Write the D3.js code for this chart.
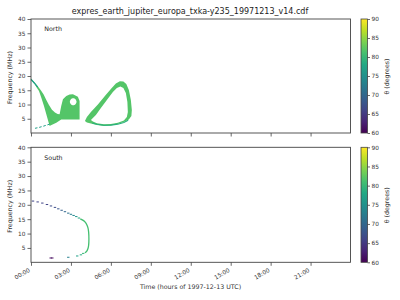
<!DOCTYPE html>
<html><head><meta charset="utf-8">
<script src="https://cdn.jsdelivr.net/npm/d3@7"></script>
<style>body{margin:0;background:#fff}svg{display:block;font-family:"DejaVu Sans",sans-serif}</style>
</head><body><svg id="c" width="400" height="300"></svg>
<script>
// ---------- data (time in hours, frequency in MHz, theta in degrees) ----------
const titleText = "expres_earth_jupiter_europa_txka-y235_19971213_v14.cdf";
const timeTicks = [0, 3, 6, 9, 12, 15, 18, 21];
const freqTicks = [5, 10, 15, 20, 25, 30, 35, 40];
const thetaTicks = [60, 65, 70, 75, 80, 85, 90];

// North: left band + blob (outline) with a hole
const northBlob = [[0,19.1],[0.25,17.8],[0.525,16.3],[0.75,14.9],[0.95,13.5],[1.15,11.6],[1.35,9.8],[1.575,8.2],[1.8,7.2],[2.0,6.7],[2.15,6.6],[2.27,9.5],[2.4,11.8],[2.65,13.0],[2.9,13.5],[3.15,13.6],[3.52,12.7],[3.65,11.2],[3.65,4.7],[2.27,4.7],[1.9,3.6],[1.5,2.7],[1.4,2.5],[1.33,3.6],[1.15,6.6],[0.975,9.5],[0.775,12.4],[0.6,14.7],[0.45,15.8],[0.25,17.3],[0,18.6]];
const northHole = [[3.42,11.0],[3.34,11.87],[3.17,12.23],[3.0,11.87],[2.92,11.0],[3.0,10.13],[3.17,9.77],[3.34,10.13]];
const northBlobTheta = 82;
const northTip = [[0,18.85],[0.25,17.55],[0.5,16.1]];
const northTipTheta = 77;
const northTrail = [[0.3,1.65],[0.6,1.95],[0.9,2.35],[1.2,2.8],[1.45,3.2]];
const northTrailTheta = 77;
// North: loop
const northLoopOuter = [[4.05,4.2],[4.2,5.6],[4.5,7.4],[5.025,10.0],[5.55,13.0],[6.0,15.4],[6.375,17.4],[6.675,18.2],[6.94,18.1],[7.16,17.2],[7.35,15.1],[7.5,11.6],[7.575,8.1],[7.54,6.0],[7.35,4.7],[6.975,3.9],[6.525,3.2],[6.0,2.6],[5.475,2.5],[4.95,2.8],[4.5,3.3],[4.2,3.7]];
const northLoopInner = [[4.5,4.6],[4.875,6.3],[5.25,8.8],[5.7,11.6],[6.15,14.4],[6.45,15.8],[6.71,16.3],[6.94,15.8],[7.125,14.0],[7.24,10.9],[7.275,7.4],[7.2,5.6],[6.975,4.4],[6.525,3.6],[6.0,3.2],[5.475,3.05],[4.95,3.4],[4.65,4.0]];
const northLoopTheta = 82;
const northLoopBottom = [[7.3,4.5],[6.975,3.7],[6.525,3.1],[6.0,2.75],[5.475,2.7],[4.95,3.05],[4.6,3.5]];
const northLoopBottomTheta = 79;

// South: dashes [t, f, theta]
const southDashes = [[0.15,21.3,66],[0.5,21.0,66],[0.85,20.6,66],[1.2,20.1,66],[1.5,19.6,67],[1.8,19.1,67],[2.05,18.6,68],[2.3,18.1,69],[2.55,17.6,70],[2.8,17.1,71],[3.0,16.7,73],[3.2,16.3,74],[3.4,15.9,76],[3.6,15.4,78],
  [2.8,1.75,73],[3.47,2.2,77],[3.75,2.6,79],[3.92,3.1,80],[1.48,1.5,61],[1.6,1.5,61]];
// South: solid arc
const southArc = [[3.7,15.1],[3.95,14.5],[4.1,13.8],[4.2,13.0],[4.28,12.0],[4.33,10.5],[4.35,8.0],[4.33,6.0],[4.28,4.8],[4.18,3.8],[4.05,3.3]];
const southArcTheta = 81;

// ---------- layout ----------
const svg = d3.select("#c");
const x = d3.scaleLinear().domain([0,24]).range([31,350.5]);
const color = t => d3.interpolateViridis((t-60)/30);
const panels = [
  {name:"North", top:19, bottom:133},
  {name:"South", top:147.3, bottom:262.3}
];
const fs = 5.8;

svg.append("text").attr("x",190).attr("y",14).attr("text-anchor","middle")
  .attr("font-size",8).attr("fill","#222").text(titleText);

panels.forEach((p,i)=>{
  const y = d3.scaleLinear().domain([0,40]).range([p.bottom,p.top]);
  const g = svg.append("g");
  const line = d3.line().x(d=>x(d[0])).y(d=>y(d[1]));
  if(i===0){
    g.append("path").attr("d", line(northBlob)+"Z"+d3.line().x(d=>x(d[0])).y(d=>y(d[1])).curve(d3.curveCardinalClosed)(northHole))
      .attr("fill-rule","evenodd").attr("fill",color(northBlobTheta));
    g.append("path").attr("d", line(northTip)).attr("fill","none").attr("stroke",color(northTipTheta)).attr("stroke-width",1.2);
    g.append("path").attr("d", line(northTrail)).attr("fill","none").attr("stroke",color(northTrailTheta))
      .attr("stroke-width",1).attr("stroke-dasharray","2.5,1.8");
    g.append("path").attr("d", line(northLoopOuter)+"Z"+line(northLoopInner)+"Z")
      .attr("fill-rule","evenodd").attr("fill",color(northLoopTheta));
    g.append("path").attr("d", line(northLoopBottom)).attr("fill","none").attr("stroke",color(northLoopBottomTheta)).attr("stroke-width",1.1);
  } else {
    g.selectAll("rect.d").data(southDashes).join("rect")
      .attr("x",d=>x(d[0])-1.2).attr("y",d=>y(d[1])-0.5).attr("width",2.4).attr("height",1)
      .attr("fill",d=>color(d[2]));
    g.append("path").attr("d", line.curve(d3.curveCatmullRom)(southArc)).attr("fill","none")
      .attr("stroke",color(southArcTheta)).attr("stroke-width",1.3);
  }
  svg.append("rect").attr("x",x(0)).attr("y",p.top).attr("width",x(24)-x(0)).attr("height",p.bottom-p.top)
    .attr("fill","none").attr("stroke","#444").attr("stroke-width",0.9);
  const ya = svg.append("g").attr("transform",`translate(${x(0)},0)`)
    .call(d3.axisLeft(y).tickValues(freqTicks).tickSize(3.5).tickPadding(2));
  ya.select(".domain").remove();
  ya.selectAll("line").attr("stroke","#444").attr("stroke-width",0.8);
  ya.selectAll("text").attr("font-size",fs).attr("fill","#333").attr("font-family","DejaVu Sans");
  const xa = svg.append("g").attr("transform",`translate(0,${p.bottom})`)
    .call(d3.axisBottom(x).tickValues(timeTicks).tickSize(3.5)
      .tickFormat(i===1 ? (d=>d3.format("02d")(d)+":00") : ""));
  xa.select(".domain").remove();
  xa.selectAll("line").attr("stroke","#444").attr("stroke-width",0.8);
  if(i===1){
    xa.selectAll("text").attr("font-size",fs).attr("fill","#333").attr("font-family","DejaVu Sans")
      .attr("text-anchor","end").attr("dy",null).attr("y",0)
      .attr("transform","translate(-1,9) rotate(-30)");
  }
  svg.append("text").attr("x",44.3).attr("y",p.top+12.3).attr("font-size",6.3).attr("fill","#222").text(p.name);
  svg.append("text").attr("transform",`translate(12.3,${(p.top+p.bottom)/2+1.5}) rotate(-90)`)
    .attr("text-anchor","middle").attr("font-size",6.3).attr("fill","#333").text("Frequency (MHz)");
  const cb = d3.scaleLinear().domain([60,90]).range([p.bottom,p.top]);
  const gid = "grad"+i;
  const grad = svg.append("defs").append("linearGradient").attr("id",gid)
    .attr("x1",0).attr("y1",1).attr("x2",0).attr("y2",0);
  d3.range(0,1.0001,0.1).forEach(s=>grad.append("stop").attr("offset",s).attr("stop-color",d3.interpolateViridis(s)));
  svg.append("rect").attr("x",361).attr("y",p.top).attr("width",6.5).attr("height",p.bottom-p.top)
    .attr("fill",`url(#${gid})`).attr("stroke","#444").attr("stroke-width",0.8);
  const ca = svg.append("g").attr("transform","translate(367.5,0)")
    .call(d3.axisRight(cb).tickValues(thetaTicks).tickSize(2.5).tickPadding(1.5));
  ca.select(".domain").remove();
  ca.selectAll("line").attr("stroke","#444").attr("stroke-width",0.8);
  ca.selectAll("text").attr("font-size",fs).attr("fill","#333").attr("font-family","DejaVu Sans");
  svg.append("text").attr("transform",`translate(389,${(p.top+p.bottom)/2+0.5}) rotate(-90)`)
    .attr("text-anchor","middle").attr("font-size",6.3).attr("fill","#333").text("θ (degrees)");
});

svg.append("text").attr("x",190.5).attr("y",289).attr("text-anchor","middle")
  .attr("font-size",6.3).attr("fill","#333").text("Time (hours of 1997-12-13 UTC)");
</script></body></html>
